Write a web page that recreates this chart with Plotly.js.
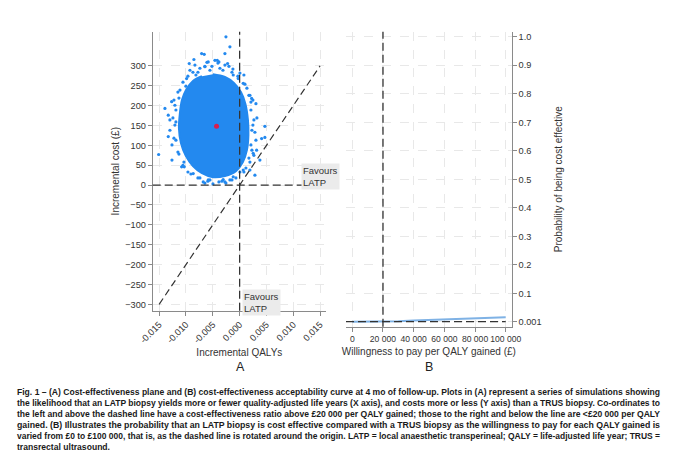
<!DOCTYPE html>
<html>
<head>
<meta charset="utf-8">
<script src="https://cdn.plot.ly/plotly-3.0.1.min.js"></script>
<style>
html,body{margin:0;padding:0;background:#fff;}
#chart{width:680px;height:463px;}
</style>
</head>
<body>
<div id="chart"></div>
<script>
// ---------- Panel A data: cost-effectiveness plane ----------
// dense core of simulated points (outline)
var coreQaly = [-0.00497,-0.00274,-0.00106,0.00024,0.00108,0.00155,0.00164,0.00136,0.00061,-0.00069,-0.00274,-0.00497,-0.00702,-0.00870,-0.01001,-0.01094,-0.01131,-0.01113,-0.01075,-0.01001,-0.00870,-0.00702];
var coreCost = [279,272,257,234,204,164,126,88,58,35,23,20,30,48,73,106,143,181,214,239,262,274];
// scattered simulations around the core
var simQaly = [-0.00255,-0.00181,-0.00274,-0.00708,-0.00660,-0.00852,-0.00939,-0.00585,-0.00417,-0.00386,-0.00224,-0.00647,-0.00988,-0.01112,-0.01267,-0.01392,-0.01330,-0.01187,-0.01330,-0.01509,-0.01081,-0.01032,-0.00865,-0.00678,-0.00585,-0.00306,-0.00181,-0.00119,0.00067,0.00285,0.00378,0.00471,0.00410,0.00471,0.00304,0.00192,0.00224,0.00067,-0.00026,-0.00119,0.00317,0.00253,
  -0.00553,-0.00367,-0.00777,-0.00143,-0.00274,-0.00647,-0.00032,0.00099,0.00173,0.00211,0.00229,0.00211,0.00173,0.00117,0.00006,-0.00069,-0.00330,-0.00553,-0.00777,-0.00963,-0.01038,-0.01131,-0.01187,-0.01206,-0.01187,-0.01131,-0.01001,-0.00814,
  -0.01299,-0.01261,-0.01224,0.00192,0.00304,0.00266,0.00248,0.00080,-0.00926,-0.00460,-0.00833,-0.00647,-0.00274,
  -0.00740,-0.00609,-0.00516,-0.00404,-0.00311,-0.00199,-0.00125,-0.00870,-0.00964,0.00006,
  0.00136,0.00211,0.00248,0.00285,0.00229,0.00192,0.00266,0.00322,0.00080,
  -0.00143,-0.00386,-0.00591,-0.00740,-0.00908,-0.00497,-0.00255,
  -0.01056,-0.01150,-0.01224,-0.01243,-0.01206,-0.01150,-0.01056,-0.01299,-0.01261];
var simCost = [373,348,331,331,329,316,306,310,314,310,306,298,268,239,210,193,176,159,122,77,46,46,29,8,13,14,13,21,38,25,63,148,117,120,205,226,218,256,268,277,88,80,
  289,294,284,284,302,299,274,254,226,189,138,101,68,43,33,18,10,13,18,33,58,78,113,151,189,219,249,277,
  138,101,214,38,113,164,214,277,289,314,302,5,8,
  294,309,299,307,289,299,292,284,274,282,
  244,209,151,133,88,58,75,169,33,
  13,8,10,18,28,3,5,
  50,83,118,169,201,234,259,164,63];
var meanQaly = [-0.0043];
var meanCost = [148];
// willingness-to-pay threshold line, £20 000 per QALY
var threshQaly = [-0.015, 0.015];
var threshCost = [-300, 300];

var xTickValsA = [-0.015, -0.010, -0.005, 0, 0.005, 0.010, 0.015];
var xTickTextA = ["-0.015", "-0.010", "-0.005", "0.000", "0.005", "0.010", "0.015"];
var yTickValsA = [-300, -250, -200, -150, -100, -50, 0, 50, 100, 150, 200, 250, 300];

// ---------- Panel B data: acceptability curve ----------
var wtp = [0, 10000, 20000, 30000, 40000, 50000, 60000, 70000, 80000, 90000, 100000];
var probCE = [0.001, 0.001, 0.002, 0.003, 0.005, 0.007, 0.009, 0.011, 0.013, 0.015, 0.017];
var xTickValsB = [0, 20000, 40000, 60000, 80000, 100000];
var xTickTextB = ["0", "20 000", "40 000", "60 000", "80 000", "100 000"];
var yTickValsB = [0.001, 0.1, 0.2, 0.3, 0.4, 0.5, 0.6, 0.7, 0.8, 0.9, 1.0];
var yTickTextB = ["0.001", "0.1", "0.2", "0.3", "0.4", "0.5", "0.6", "0.7", "0.8", "0.9", "1.0"];
var wtpThreshold = 20000;

var captionLines = [
  "Fig. 1 – (A) Cost-effectiveness plane and (B) cost-effectiveness acceptability curve at 4 mo of follow-up. Plots in (A) represent a series of simulations showing",
  "the likelihood that an LATP biopsy yields more or fewer quality-adjusted life years (X axis), and costs more or less (Y axis) than a TRUS biopsy. Co-ordinates to",
  "the left and above the dashed line have a cost-effectiveness ratio above £20 000 per QALY gained; those to the right and below the line are &lt;£20 000 per QALY",
  "gained. (B) Illustrates the probability that an LATP biopsy is cost effective compared with a TRUS biopsy as the willingness to pay for each QALY gained is",
  "varied from £0 to £100 000, that is, as the dashed line is rotated around the origin. LATP = local anaesthetic transperineal; QALY = life-adjusted life year; TRUS =",
  "transrectal ultrasound."
];

var BLUE = "#2389ef";
var DASHC = "#333333";
var AXC = "#8a8a8a";
var GRID = "#e8e8e8";
var FONT = "Liberation Sans, Arial, sans-serif";

var traces = [
  {x: coreQaly, y: coreCost, type: "scatter", mode: "lines", fill: "toself",
   fillcolor: BLUE, line: {color: BLUE, width: 2, shape: "spline"}, hoverinfo: "skip",
   xaxis: "x", yaxis: "y", showlegend: false},
  {x: simQaly, y: simCost, type: "scatter", mode: "markers",
   marker: {color: BLUE, size: 3.2}, xaxis: "x", yaxis: "y", showlegend: false},
  {x: threshQaly, y: threshCost, type: "scatter", mode: "lines",
   line: {color: DASHC, width: 1.2, dash: "7px,4px"}, xaxis: "x", yaxis: "y", showlegend: false},
  {x: meanQaly, y: meanCost, type: "scatter", mode: "markers",
   marker: {color: "#d61f4f", size: 5}, xaxis: "x", yaxis: "y", showlegend: false},
  {x: wtp, y: probCE, type: "scatter", mode: "lines",
   line: {color: "#7fb2e5", width: 2}, xaxis: "x2", yaxis: "y2", showlegend: false}
];

var axisCommon = {
  showline: true, linecolor: AXC, linewidth: 1,
  ticks: "outside", ticklen: 4, tickcolor: AXC, tickwidth: 1,
  showgrid: true, gridcolor: GRID, griddash: "dash", gridwidth: 1,
  zeroline: false, tickfont: {family: FONT, size: 9.2, color: "#333"},
  fixedrange: true
};

function ax(o) { return Object.assign({}, axisCommon, o); }

var shapes = [
  {type: "line", xref: "x", yref: "y domain", x0: 0, x1: 0, y0: 0, y1: 1,
   line: {color: DASHC, width: 1.3, dash: "8px,4px"}},
  {type: "line", xref: "x domain", yref: "y", x0: 0, x1: 1, y0: 0, y1: 0,
   line: {color: DASHC, width: 1.3, dash: "8px,4px"}},
  {type: "line", xref: "x2", yref: "y2 domain", x0: wtpThreshold, x1: wtpThreshold, y0: 0, y1: 1,
   line: {color: DASHC, width: 1.3, dash: "8px,4px"}},
  {type: "line", xref: "x2", yref: "y2", x0: -4100, x1: 100000, y0: 0.001, y1: 0.001,
   line: {color: DASHC, width: 1.3, dash: "8px,4px"}}
];

var annotations = [
  {xref: "x", yref: "y", x: 0.0115, y: 56, xanchor: "left", yanchor: "top", align: "left",
   text: "Favours<br>LATP", showarrow: false, bgcolor: "#ebebeb", borderpad: 1,
   font: {family: FONT, size: 9.5, color: "#333"}},
  {xref: "x", yref: "y", x: 0.0004, y: -262, xanchor: "left", yanchor: "top", align: "left",
   text: "Favours<br>LATP", showarrow: false, bgcolor: "#ebebeb", borderpad: 1,
   font: {family: FONT, size: 9.5, color: "#333"}},
  {xref: "paper", yref: "paper", x: 240/680, y: 1 - 367/463, xanchor: "center", yanchor: "middle",
   text: "A", showarrow: false, font: {family: FONT, size: 12.5, color: "#222"}},
  {xref: "paper", yref: "paper", x: 429/680, y: 1 - 367/463, xanchor: "center", yanchor: "middle",
   text: "B", showarrow: false, font: {family: FONT, size: 12.5, color: "#222"}}
];

var CAP_START = annotations.length;
var capY0 = 391.5, capDy = 11.1;
captionLines.forEach(function (t, i) {
  annotations.push({
    xref: "paper", yref: "paper", x: 15/680, y: 1 - (capY0 + i*capDy)/463,
    xanchor: "left", yanchor: "middle", align: "left", showarrow: false,
    text: "<b>" + t + "</b>",
    font: {family: "Liberation Sans, Arial, sans-serif", size: 8.5, color: "#1a1a1a"}
  });
});

var layout = {
  width: 680, height: 463,
  margin: {l: 0, r: 0, t: 0, b: 0},
  paper_bgcolor: "#ffffff", plot_bgcolor: "#ffffff",
  showlegend: false,
  xaxis: ax({domain: [152.7/680, 326/680], range: [-0.0162, 0.0161], anchor: "y",
    tickvals: xTickValsA, ticktext: xTickTextA, tickangle: -45,
    title: {text: "Incremental QALYs", font: {family: FONT, size: 10, color: "#333"}, standoff: 4}}),
  yaxis: ax({domain: [1 - 310.7/463, 1 - 31.7/463], range: [-316, 386], anchor: "x",
    tickvals: yTickValsA,
    title: {text: "Incremental cost (£)", font: {family: FONT, size: 10, color: "#333"}, standoff: 3}}),
  xaxis2: ax({domain: [346/680, 511.7/680], range: [-4100, 103900], anchor: "y2",
    tickvals: xTickValsB, ticktext: xTickTextB, tickangle: 0,
    tickfont: {family: FONT, size: 8.6, color: "#333"},
    title: {text: "Willingness to pay per QALY gained (£)", font: {family: FONT, size: 10, color: "#333"}, standoff: 4}}),
  yaxis2: ax({domain: [1 - 326.7/463, 1 - 31.7/463], range: [-0.0165, 1.0175], anchor: "x2",
    side: "right", tickvals: yTickValsB, ticktext: yTickTextB,
    title: {text: "Probability of being cost effective", font: {family: FONT, size: 10, color: "#333"}, standoff: 14}}),
  shapes: shapes,
  annotations: annotations
};

Plotly.newPlot("chart", traces, layout, {staticPlot: true, displayModeBar: false}).then(function (gd) {
  // justify the caption lines to the printed column width, as in the journal figure
  var full = 643, factor = null;
  for (var i = 0; i < captionLines.length; i++) {
    var el = gd.querySelector('g.annotation[data-index="' + (CAP_START + i) + '"] text.annotation-text');
    if (!el) continue;
    var w = el.getComputedTextLength();
    if (factor === null) factor = full / w;
    var target = (i < captionLines.length - 1) ? full : Math.min(full, w * factor);
    el.setAttribute("textLength", target.toFixed(1));
    el.setAttribute("lengthAdjust", "spacingAndGlyphs");
  }
});
</script>
</body>
</html>
